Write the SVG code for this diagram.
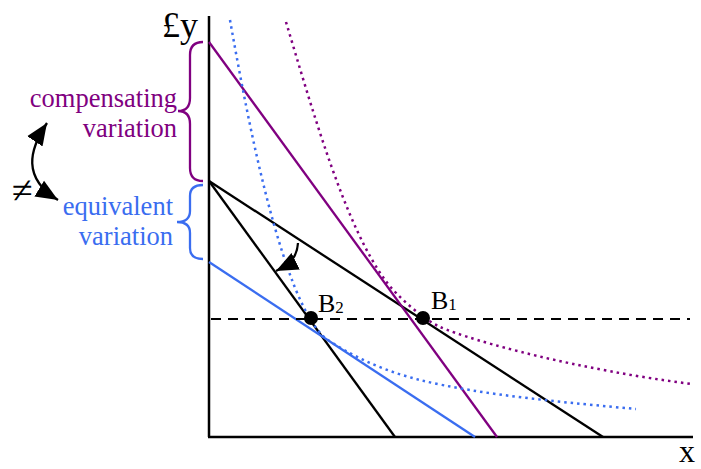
<svg xmlns="http://www.w3.org/2000/svg" width="701" height="469" viewBox="0 0 701 469">
<defs>
<style>
.ax{stroke:#000;stroke-width:2.5;fill:none}
.blk{stroke:#000;stroke-width:2.3;fill:none}
.pur{stroke:#800080;stroke-width:2.3;fill:none}
.blu{stroke:#3a6df0;stroke-width:2.3;fill:none}
.dotp{stroke:#800080;stroke-width:2.5;fill:none;stroke-dasharray:2.5,4}
.dotb{stroke:#3a6df0;stroke-width:2.5;fill:none;stroke-dasharray:2.5,4}
.dash{stroke:#000;stroke-width:2;fill:none;stroke-dasharray:10,7}
text{font-family:"Liberation Serif","Times New Roman","DejaVu Serif",serif}
</style>
<marker id="ahb" viewBox="0 0 10 10" refX="10" refY="5" markerWidth="22" markerHeight="22" markerUnits="userSpaceOnUse" orient="auto-start-reverse">
<path d="M0,0.8 L10,5 L0,9.2 z" fill="#000"/>
</marker>
</defs>
<g id="axes">
<line class="ax" x1="209" y1="16" x2="209" y2="437"/>
<line class="ax" x1="208" y1="437" x2="693" y2="437"/>
<text x="198" y="37" font-size="36" text-anchor="end">£y</text>
<text x="679" y="462" font-size="32">x</text>
</g>
<g id="connectors">
<line class="blk" x1="209" y1="181" x2="603" y2="437"/>
<line class="blk" x1="209" y1="181" x2="395" y2="437"/>
<line class="blu" x1="209" y1="262" x2="475" y2="437"/>
<line class="pur" x1="209" y1="42" x2="497" y2="437"/>
<line class="dash" x1="211" y1="319" x2="690" y2="319"/>
<path class="dotp" d="M286,22 C313,112 345,225 385,280 C397,296.5 424,319.8 440,327 C475,342 580,370 692,384"/>
<path class="dotb" d="M230,20 C246,110 265.6,210 292,280 C299.5,300 313,330 328,340 C358,360 390,372.5 420,380 C480,395 570,403 636,409"/>
<path class="blk" d="M298,243 C297,256 292,263 276,271" marker-end="url(#ahb)" stroke-width="2.2"/>
<path class="blk" d="M47,123 C29,150 22,178 58,200" marker-start="url(#ahb)" marker-end="url(#ahb)" stroke-width="2.5"/>
</g>
<g id="B2">
<circle cx="311" cy="318" r="7" fill="#000"/>
<text x="318" y="312" font-size="26">B<tspan font-size="17" dy="1">2</tspan></text>
</g>
<g id="B1">
<circle cx="423" cy="318" r="7" fill="#000"/>
<text x="431" y="309" font-size="26">B<tspan font-size="17" dy="1">1</tspan></text>
</g>
<g id="cv">
<path class="pur" d="M203,42 Q190,42 190,55 L190,98 Q190,111 178,111 Q190,111 190,124 L190,168 Q190,181 203,181"/>
<text x="177" y="107" font-size="26.5" fill="#800080" text-anchor="end">compensating</text>
<text x="177" y="137" font-size="26.5" fill="#800080" text-anchor="end">variation</text>
</g>
<g id="ev">
<path class="blu" d="M203,185 Q190,185 190,196 L190,211 Q190,222 177,222 Q190,222 190,233 L190,248 Q190,259 203,259"/>
<text x="173" y="215" font-size="26.5" fill="#3a6df0" text-anchor="end">equivalent</text>
<text x="173" y="245" font-size="26.5" fill="#3a6df0" text-anchor="end">variation</text>
</g>
<g id="neq">
<text x="12" y="203" font-size="38">≠</text>
</g>
</svg>
